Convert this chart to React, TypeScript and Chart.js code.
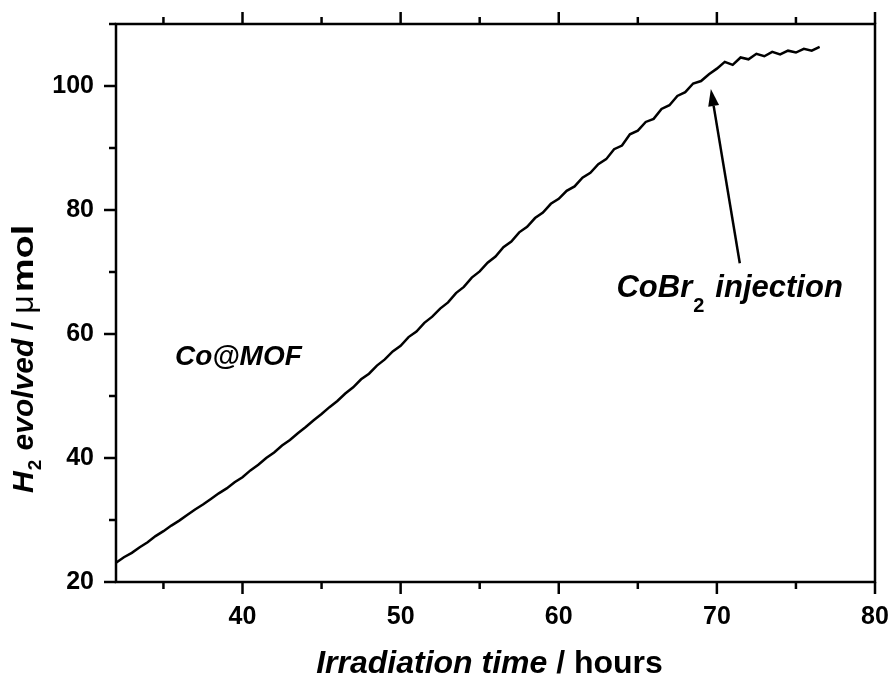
import { useEffect, useRef } from 'react';
import { Chart, registerables } from 'chart.js';

Chart.register(...registerables);

// ---- data ----
const hours = [
  32.0, 32.5, 33.0, 33.5, 34.0, 34.5, 35.0, 35.5, 36.0, 36.5,
  37.0, 37.5, 38.0, 38.5, 39.0, 39.5, 40.0, 40.5, 41.0, 41.5,
  42.0, 42.5, 43.0, 43.5, 44.0, 44.5, 45.0, 45.5, 46.0, 46.5,
  47.0, 47.5, 48.0, 48.5, 49.0, 49.5, 50.0, 50.5, 51.0, 51.5,
  52.0, 52.5, 53.0, 53.5, 54.0, 54.5, 55.0, 55.5, 56.0, 56.5,
  57.0, 57.5, 58.0, 58.5, 59.0, 59.5, 60.0, 60.5, 61.0, 61.5,
  62.0, 62.5, 63.0, 63.5, 64.0, 64.5, 65.0, 65.5, 66.0, 66.5,
  67.0, 67.5, 68.0, 68.5, 69.0, 69.5, 70.0, 70.5, 71.0, 71.5,
  72.0, 72.5, 73.0, 73.5, 74.0, 74.5, 75.0, 75.5, 76.0, 76.5,
];
const h2Evolved = [
  23.1, 24.0, 24.7, 25.6, 26.4, 27.4, 28.2, 29.1, 29.9, 30.8,
  31.7, 32.5, 33.4, 34.3, 35.1, 36.1, 36.9, 38.0, 38.9, 40.0,
  40.9, 42.0, 42.9, 44.0, 45.0, 46.1, 47.1, 48.2, 49.2, 50.4,
  51.4, 52.7, 53.6, 54.9, 55.9, 57.2, 58.1, 59.5, 60.4, 61.8,
  62.8, 64.1, 65.1, 66.6, 67.6, 69.1, 70.1, 71.5, 72.5, 74.0,
  74.9, 76.4, 77.3, 78.7, 79.6, 81.0, 81.8, 83.1, 83.8, 85.2,
  86.0, 87.4, 88.2, 89.8, 90.4, 92.2, 92.8, 94.2, 94.7, 96.3,
  96.9, 98.4, 99.0, 100.4, 100.8, 101.9, 102.8, 103.9, 103.4, 104.6,
  104.3, 105.2, 104.8, 105.5, 105.1, 105.7, 105.4, 106.0, 105.7, 106.3,
];

const xRange = [32, 80];
const yRange = [20, 110];
const xMajorTicks = [40, 50, 60, 70, 80];
const xMinorTicks = [35, 45, 55, 65, 75];
const yMajorTicks = [20, 40, 60, 80, 100];
const yMinorTicks = [30, 50, 70, 90, 110];

const xTitleItalic = 'Irradiation time';
const xTitleUpright = ' / hours';
const yTitleMain = 'H';
const yTitleSub = '2';
const yTitleItalic = ' evolved';
const yTitleSlash = ' / ';
const yTitleMu = '\u03BC';
const yTitleUnit = 'mol';

const sampleLabel = 'Co@MOF';
const injectionMain = 'CoBr';
const injectionSub = '2';
const injectionRest = 'injection';

// annotation anchors in data units
const sampleLabelAt = { x: 35.73, y: 55.0 };
const injectionLabelAt = { x: 63.65, y: 66.0 };
const arrowTail = { x: 71.45, y: 71.4 };
const arrowTip = { x: 69.62, y: 99.5 };

const FAMILY = "'Liberation Sans', Arial, sans-serif";

const decorPlugin = {
  id: 'decor',
  afterDraw(chart: any) {
    const { ctx, chartArea: a, scales } = chart;
    const x = scales.x;
    const y = scales.y;
    ctx.save();
    ctx.strokeStyle = '#000';
    ctx.fillStyle = '#000';
    ctx.lineCap = 'butt';

    const seg = (x1: number, y1: number, x2: number, y2: number) => {
      ctx.beginPath();
      ctx.moveTo(x1, y1);
      ctx.lineTo(x2, y2);
      ctx.stroke();
    };

    // frame
    ctx.lineWidth = 2.5;
    ctx.strokeRect(a.left, a.top, a.right - a.left, a.bottom - a.top);

    // ticks
    const MAJ = 12;
    const MIN = 7;
    for (const v of xMajorTicks) {
      const p = x.getPixelForValue(v);
      seg(p, a.bottom, p, a.bottom + MAJ);
      seg(p, a.top, p, a.top - MAJ);
    }
    for (const v of xMinorTicks) {
      const p = x.getPixelForValue(v);
      seg(p, a.bottom, p, a.bottom + MIN);
      seg(p, a.top, p, a.top - MIN);
    }
    for (const v of yMajorTicks) {
      const p = y.getPixelForValue(v);
      seg(a.left, p, a.left - MAJ, p);
    }
    for (const v of yMinorTicks) {
      const p = y.getPixelForValue(v);
      seg(a.left, p, a.left - MIN, p);
    }

    // arrow
    const tx = x.getPixelForValue(arrowTail.x);
    const ty = y.getPixelForValue(arrowTail.y);
    const hx = x.getPixelForValue(arrowTip.x);
    const hy = y.getPixelForValue(arrowTip.y);
    const ang = Math.atan2(hy - ty, hx - tx);
    const headLen = 17;
    const headHalf = 5.5;
    const bx = hx - headLen * Math.cos(ang);
    const by = hy - headLen * Math.sin(ang);
    ctx.lineWidth = 2.5;
    seg(tx, ty, bx, by);
    ctx.beginPath();
    ctx.moveTo(hx, hy);
    ctx.lineTo(bx + headHalf * Math.sin(ang), by - headHalf * Math.cos(ang));
    ctx.lineTo(bx - headHalf * Math.sin(ang), by + headHalf * Math.cos(ang));
    ctx.closePath();
    ctx.fill();

    ctx.textBaseline = 'alphabetic';
    ctx.textAlign = 'left';

    // Co@MOF
    ctx.font = `italic bold 28px ${FAMILY}`;
    ctx.fillText(sampleLabel, x.getPixelForValue(sampleLabelAt.x), y.getPixelForValue(sampleLabelAt.y));

    // CoBr2 injection
    {
      let px = x.getPixelForValue(injectionLabelAt.x);
      const py = y.getPixelForValue(injectionLabelAt.y);
      ctx.font = `italic bold 31px ${FAMILY}`;
      ctx.fillText(injectionMain, px, py);
      px += ctx.measureText(injectionMain).width + 1;
      ctx.font = `bold 20px ${FAMILY}`;
      ctx.fillText(injectionSub, px, py + 15);
      px += ctx.measureText(injectionSub).width + 11;
      ctx.font = `italic bold 31px ${FAMILY}`;
      ctx.fillText(injectionRest, px, py);
    }

    // x title
    {
      const fI = `italic bold 32px ${FAMILY}`;
      const fU = `bold 32px ${FAMILY}`;
      ctx.font = fI;
      const w1 = ctx.measureText(xTitleItalic).width;
      ctx.font = fU;
      const w2 = ctx.measureText(xTitleUpright).width;
      const cx = (a.left + a.right) / 2 - 6;
      let px = cx - (w1 + w2) / 2;
      const py = 673;
      ctx.font = fI;
      ctx.fillText(xTitleItalic, px, py);
      px += w1;
      ctx.font = fU;
      ctx.fillText(xTitleUpright, px, py);
    }

    // y title (rotated), reads bottom to top
    {
      const fI = `italic bold 30px ${FAMILY}`;
      const fS = `bold 19px ${FAMILY}`;
      const fU = `bold 30px ${FAMILY}`;
      const fMu = `32px ${FAMILY}`;
      const fUnit = `bold 38px ${FAMILY}`;
      ctx.translate(33, 0);
      ctx.rotate(-Math.PI / 2);
      let px = -493;
      ctx.font = fI;
      ctx.fillText(yTitleMain, px, 0);
      px += ctx.measureText(yTitleMain).width + 1;
      ctx.font = fS;
      ctx.fillText(yTitleSub, px, 8);
      px += ctx.measureText(yTitleSub).width + 1;
      ctx.font = fI;
      ctx.fillText(yTitleItalic, px, 0);
      px += ctx.measureText(yTitleItalic).width;
      ctx.font = fU;
      ctx.fillText(yTitleSlash, px, 0);
      px += ctx.measureText(yTitleSlash).width;
      ctx.font = fMu;
      ctx.fillText(yTitleMu, px, 0);
      px += ctx.measureText(yTitleMu).width + 3;
      ctx.font = fUnit;
      ctx.save();
      ctx.translate(px, 0);
      ctx.scale(1, 0.76);
      ctx.fillText(yTitleUnit, 0, 0);
      ctx.restore();
    }

    ctx.restore();
  },
};

export default function App() {
  const ref = useRef<HTMLCanvasElement | null>(null);

  useEffect(() => {
    document.body.style.margin = '0';
    const canvas = ref.current;
    if (!canvas) return;
    const tickFont = { family: FAMILY, size: 25, weight: 'bold' as const };
    const chart = new Chart(canvas, {
      type: 'line',
      data: {
        datasets: [
          {
            data: hours.map((h, i) => ({ x: h, y: h2Evolved[i] })),
            borderColor: '#000',
            borderWidth: 2.5,
            pointRadius: 0,
            tension: 0,
            fill: false,
          },
        ],
      },
      options: {
        animation: false,
        responsive: true,
        maintainAspectRatio: false,
        layout: { padding: { top: 24, right: 17, left: 0, bottom: 0 } },
        plugins: { legend: { display: false }, tooltip: { enabled: false } },
        scales: {
          x: {
            type: 'linear',
            min: xRange[0],
            max: xRange[1],
            grid: { display: false, drawTicks: false },
            border: { display: false },
            ticks: { font: tickFont, color: '#000', padding: 20, maxRotation: 0 },
            afterBuildTicks: (s: any) => {
              s.ticks = xMajorTicks.map((v) => ({ value: v }));
            },
            afterFit: (s: any) => {
              s.height = 96;
              s.paddingLeft = 0;
              s.paddingRight = 0;
            },
          },
          y: {
            type: 'linear',
            min: yRange[0],
            max: yRange[1],
            grid: { display: false, drawTicks: false },
            border: { display: false },
            ticks: { font: tickFont, color: '#000', padding: 22 },
            afterBuildTicks: (s: any) => {
              s.ticks = yMajorTicks.map((v) => ({ value: v }));
            },
            afterFit: (s: any) => {
              s.width = 116;
              s.paddingTop = 0;
              s.paddingBottom = 0;
            },
          },
        },
      },
      plugins: [decorPlugin],
    });
    return () => chart.destroy();
  }, []);

  return (
    <div style={{ position: 'relative', width: 892, height: 678, background: '#fff' }}>
      <canvas ref={ref} />
    </div>
  );
}
